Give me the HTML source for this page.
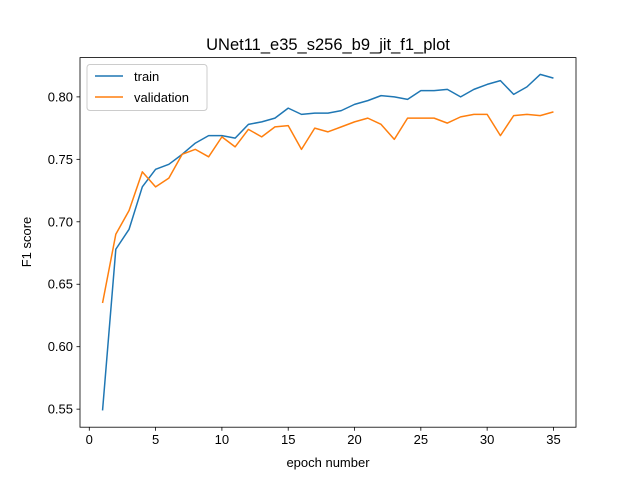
<!DOCTYPE html>
<html><head><meta charset="utf-8"><style>
body{margin:0;background:#fff}
svg{font-family:"Liberation Sans","DejaVu Sans",sans-serif}
</style></head><body>
<svg id="chart" width="640" height="480" viewBox="0 0 640 480">
<rect width="640" height="480" fill="#fff"/>
<text x="328" y="50" font-size="16.5" text-anchor="middle">UNet11_e35_s256_b9_jit_f1_plot</text>
<g id="grid"></g>
<g id="lines"></g>
<rect x="80" y="57.6" width="496" height="369.6" fill="none" stroke="#000" stroke-width="0.8"/>
<text x="328" y="467" font-size="13" text-anchor="middle">epoch number</text>
<text transform="translate(31,242) rotate(-90)" font-size="13" text-anchor="middle">F1 score</text>
<g>
<rect x="87" y="64.5" width="120" height="46" rx="3" fill="#fff" fill-opacity="0.8" stroke="#ccc"/>
<line x1="95" y1="76" x2="123" y2="76" stroke="#1f77b4" stroke-width="1.5"/>
<text x="134" y="81" font-size="13">train</text>
<line x1="95" y1="97" x2="123" y2="97" stroke="#ff7f0e" stroke-width="1.5"/>
<text x="134" y="102" font-size="13">validation</text>
</g>
</svg>
<script>
const epochs=[1,2,3,4,5,6,7,8,9,10,11,12,13,14,15,16,17,18,19,20,21,22,23,24,25,26,27,28,29,30,31,32,33,34,35];
const trainF1=[0.549,0.678,0.694,0.728,0.742,0.746,0.754,0.763,0.769,0.769,0.767,0.778,0.780,0.783,0.791,0.786,0.787,0.787,0.789,0.794,0.797,0.801,0.800,0.798,0.805,0.805,0.806,0.800,0.806,0.810,0.813,0.802,0.808,0.818,0.815];
const valF1=[0.635,0.690,0.709,0.740,0.728,0.735,0.754,0.758,0.752,0.768,0.760,0.774,0.768,0.776,0.777,0.758,0.775,0.772,0.776,0.780,0.783,0.778,0.766,0.783,0.783,0.783,0.779,0.784,0.786,0.786,0.769,0.785,0.786,0.785,0.788];
const xTicks=[0,5,10,15,20,25,30,35];
const yTicks=[0.55,0.60,0.65,0.70,0.75,0.80];
const L=80,R=576,T=57.6,B=427.2;
const all=trainF1.concat(valF1);
const ymin=Math.min(...all),ymax=Math.max(...all),yr=ymax-ymin;
const y0=ymin-0.05*yr,y1=ymax+0.05*yr;
const xmn=Math.min(...epochs),xmx=Math.max(...epochs),xr=xmx-xmn;
const x0=xmn-0.05*xr,x1=xmx+0.05*xr;
const sx=v=>L+(v-x0)/(x1-x0)*(R-L);
const sy=v=>B-(v-y0)/(y1-y0)*(B-T);
const NS="http://www.w3.org/2000/svg";
const g=document.getElementById('grid'),lg=document.getElementById('lines');
function mk(t,a,p){const e=document.createElementNS(NS,t);for(const k in a)e.setAttribute(k,a[k]);p.appendChild(e);return e;}
xTicks.forEach(v=>{const x=sx(v);
const t=mk('line',{x1:x,x2:x,y1:B,y2:B+3.5,stroke:'#000','stroke-width':0.8},g);


const l=mk('text',{x:x,y:B+17,'font-size':13,'text-anchor':'middle'},g);l.textContent=v;

});
yTicks.forEach(v=>{const y=sy(v);
const t=mk('line',{x1:L-3.5,x2:L,y1:y,y2:y,stroke:'#000','stroke-width':0.8},g);


const l=mk('text',{x:L-7,y:y+4.5,'font-size':13,'text-anchor':'end'},g);l.textContent=v.toFixed(2);

});
function line(data,color,name){
const p=mk('polyline',{points:data.map((v,i)=>sx(epochs[i])+','+sy(v)).join(' '),fill:'none',stroke:color,'stroke-width':1.5,'stroke-linejoin':'round'},lg);

}
line(trainF1,'#1f77b4','train-line');
line(valF1,'#ff7f0e','validation-line');
</script>
</body></html>
